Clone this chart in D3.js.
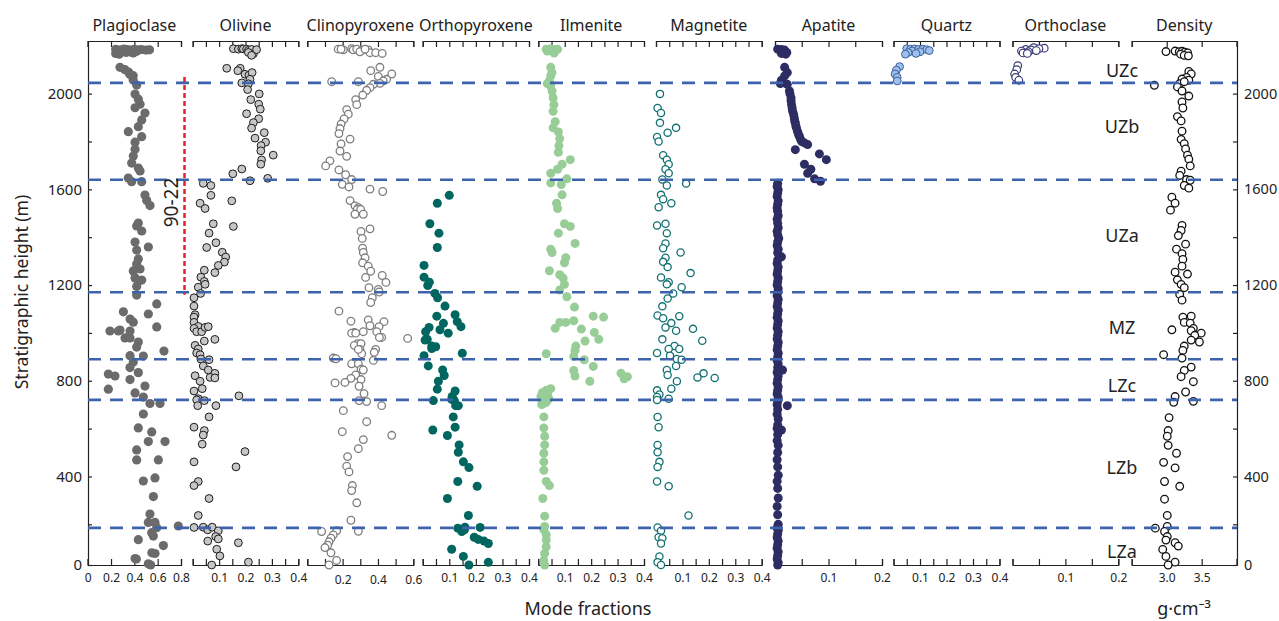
<!DOCTYPE html>
<html>
<head>
<meta charset="utf-8">
<script src="https://cdn.jsdelivr.net/npm/d3@7"></script>
<style>
  body { margin: 0; background: #fff; }
  text { font-family: "Noto Sans", sans-serif; fill: #222; }
</style>
</head>
<body>
<svg id="chart" width="1279" height="621"></svg>
<script>
// ---- data: [height (m), value] ----
const plagioclase = [
  [2185,.24],[2183,.28],[2186,.31],[2184,.34],[2182,.37],[2185,.40],[2183,.43],[2184,.46],[2182,.50],[2183,.53],
  [2178,.26],[2176,.30],[2175,.36],[2177,.42],[2172,.33],[2168,.24],[2165,.27],[2170,.39],
  [2110,.277],[2100,.32],[2090,.35],[2080,.363],[2075,.39],[2057,.39],[2036,.42],[1998,.406],
  [1977,.434],[1956,.449],[1941,.406],[1919,.491],[1890,.463],[1862,.434],[1841,.348],[1820,.463],
  [1797,.406],[1768,.406],[1739,.391],[1710,.377],[1689,.434],[1677,.449],
  [1647,.348],[1632,.377],[1632,.463],[1576,.491],[1553,.506],[1532,.534],
  [1459,.434],[1447,.42],[1426,.463],[1380,.406],[1359,.52],
  [1346,.42],[1309,.434],[1288,.42],[1267,.449],[1259,.391],[1230,.406],[1217,.434],[1221,.463],[1194,.42],
  [1158,.42],[1121,.592],[1088,.306],[1058,.363],[1045,.391],[1079,.52],[1012,.277],[1008,.363],[1008,.263],[1008,.191],[1025,.592],
  [979,.32],[979,.363],[962,.434],[941,.42],[903,.477],[905,.363],[878,.391],[855,.363],[924,.654],
  [834,.434],[828,.177],[820,.234],[805,.363],
  [765,.177],[749,.406],[778,.491],[732,.477],[705,.534],[705,.62],
  [661,.477],[603,.434],[586,.549],[546,.52],[546,.663],[511,.42],
  [469,.42],[469,.606],[381,.477],[394,.577],[316,.563],
  [243,.534],[208,.52],[208,.577],[186,.592],[165,.549],[151,.563],[193,.777],
  [136,.434],[111,.649],[81,.55],[78,.577],[57,.406],[55,.417],[35,.52],[28,.54]
];
const olivine = [
  [2188,.154],[2186,.173],[2188,.186],[2187,.192],[2186,.204],[2181,.211],[2185,.223],[2167,.230],[2184,.242],[2172,.211],[2160,.223],
  [2106,.129],[2106,.18],[2096,.171],[2081,.198],[2077,.213],[2088,.225],[2060,.217],[2045,.186],[2041,.211],[2017,.208],
  [1999,.252],[1975,.22],[1956,.25],[1935,.256],[1916,.204],[1895,.25],[1879,.23],[1856,.223],[1837,.271],[1814,.236],
  [1797,.276],[1783,.259],[1761,.258],[1743,.305],[1723,.261],[1705,.258],
  [1685,.186],[1665,.152],[1646,.284],[1636,.217],
  [1625,.04],[1616,.069],[1575,.069],[1542,.028],[1520,.047],[1552,.148],[1456,.078],[1445,.154],[1417,.062],[1357,.053],
  [1377,.088],[1337,.112],[1317,.125],[1296,.12],[1282,.097],[1252,.084],[1262,.044],[1233,.031],[1215,.044],[1191,.021],[1203,.047],[1165,.03],
  [1147,.005],[1112,.005],[1076,.009],[1066,.005],[1044,.005],[1027,.021],[1019,.005],[1005,.015],[1005,.034],[1023,.047],[1026,.059],
  [973,.084],[966,.044],[948,.009],[933,.021],[916,.015],[909,.028],[888,.062],[891,.031],[862,.040],
  [821,.009],[845,.059],[831,.084],[814,.066],[812,.084],[798,.028],[767,.036],[757,.005],[725,.021],[720,.015],[717,.044],
  [696,.019],[696,.088],[737,.175],[649,.062],[606,.005],[592,.044],[573,.040],[535,.036],[504,.198],[461,.005],[440,.164],
  [379,.021],[362,.005],[308,.062],[237,.021],[187,.005],[188,.040],[177,.057],[188,.074],[173,.097],[149,.087],[139,.097],
  [130,.057],[123,.173],[96,.091],[68,.103],[42,.211],[25,.072]
];
const clinopyroxene = [
  [2186,.175],[2183,.204],[2188,.251],[2183,.26],[2186,.28],[2181,.308],[2183,.345],[2175,.298],[2171,.355],[2171,.387],[2168,.424],[2186,.191],[2186,.327],
  [2110,.411],[2096,.359],[2082,.478],[2072,.402],[2060,.449],[2053,.43],[2043,.411],[2050,.138],[2050,.289],[2039,.374],[2025,.355],
  [2014,.336],[1994,.314],[1975,.274],[1954,.28],[1933,.223],[1914,.232],[1894,.208],[1873,.191],[1854,.185],[1833,.179],[1810,.242],
  [1790,.191],[1760,.185],[1738,.223],[1719,.128],[1698,.104],[1681,.179],[1661,.217],[1641,.251],[1621,.198],[1610,.236],[1601,.355],
  [1591,.427],[1553,.242],
  [1531,.27],[1523,.289],[1516,.283],[1516,.302],[1496,.27],[1496,.317],[1435,.355],[1424,.304],[1395,.311],[1354,.313],[1336,.317],
  [1314,.327],[1293,.313],[1279,.345],[1258,.359],[1232,.33],[1240,.424],[1211,.445],[1189,.349],[1182,.402],[1171,.407],
  [1147,.368],[1127,.359],[1091,.179],[1049,.247],[1054,.345],[1047,.434],[1030,.355],[1026,.406],[1005,.393],[1002,.266],[999,.251],
  [999,.274],[1005,.317],[981,.421],[977,.568],[981,.408],[955,.285],[948,.266],[955,.304],[931,.298],[913,.308],[931,.387],[919,.379],
  [931,.289],[895,.147],[892,.162],[885,.374],[871,.251],[871,.289],[848,.304],[845,.317],[824,.274],[810,.247],[805,.304],[793,.213],
  [791,.157],[777,.293],[746,.321],[717,.293],[713,.336],[696,.421],[675,.204],[629,.336],[587,.198],[554,.317],[572,.478],[516,.289],
  [483,.228],[443,.223],[419,.236],[362,.255],[341,.251],[290,.28],[217,.247],[171,.289],[173,.166],[156,.147],[170,.081],[142,.134],
  [127,.123],[113,.115],[103,.10],[81,.134],[49,.166],[25,.123]
];
const orthopyroxene = [
  [1575,.100],[1542,.055],[1456,.027],[1417,.061],[1357,.055],[1282,.005],[1233,.005],[1212,.025],[1198,.019],[1165,.046],[1147,.056],
  [1112,.084],[1070,.053],[1076,.122],[1040,.078],[1047,.130],[1026,.144],[1023,.024],[1005,.011],[1013,.065],[999,.096],[970,.009],
  [973,.017],[945,.034],[942,.049],[935,.034],[915,.149],[905,.005],[862,.021],[845,.075],[822,.081],[798,.059],[765,.055],[757,.122],
  [734,.111],[717,.040],[722,.109],[717,.119],[696,.124],[696,.134],[649,.115],[606,.122],[594,.038],[571,.093],[532,.137],[501,.134],
  [461,.153],[437,.174],[379,.132],[359,.205],[308,.093],[237,.172],[184,.132],[177,.157],[170,.147],[188,.159],[187,.216],[146,.194],
  [137,.209],[130,.231],[120,.247],[96,.109],[66,.153],[41,.247],[25,.174]
];
const ilmenite = [
  [2186,.030],[2188,.047],[2183,.064],[2185,.073],[2178,.034],[2175,.056],[2180,.047],[2170,.06],
  [2110,.047],[2088,.052],[2074,.047],[2053,.042],[2042,.034],[2032,.047],[2011,.052],[1983,.056],[1954,.059],[1926,.056],[1883,.064],
  [1857,.056],[1840,.076],[1812,.081],[1783,.078],[1755,.076],[1724,.121],[1705,.090],[1684,.073],[1667,.047],[1644,.108],[1627,.047],
  [1620,.087],[1577,.090],[1542,.069],[1520,.073],[1456,.099],[1445,.121],[1417,.076],[1374,.139],[1350,.047],[1336,.052],[1314,.104],
  [1293,.099],[1260,.042],[1243,.081],[1229,.094],[1203,.099],[1179,.081],[1151,.108],[1108,.137],[1070,.208],[1066,.247],[1044,.081],
  [1019,.064],[1044,.104],[1051,.134],[1016,.163],[1002,.212],[973,.229],[966,.177],[945,.142],[927,.139],[913,.030],[902,.134],
  [888,.174],[860,.208],[843,.134],[820,.139],[798,.195],[831,.313],[817,.337],[808,.325],
  [767,.047],[760,.030],[750,.015],[745,.035],[739,.021],[735,.01],[732,.021],[728,.03],[725,.04],[717,.013],[710,.030],[705,.02],[700,.013],
  [649,.021],[603,.021],[568,.024],[532,.024],[497,.021],[461,.021],[426,.021],[379,.030],[362,.042],[308,.017],[234,.024],[191,.024],
  [177,.021],[156,.030],[134,.030],[106,.030],[78,.024],[49,.021],[25,.024]
];
const magnetite = [
  [1999,.015],[1940,.006],[1919,.019],[1878,.015],[1857,.076],[1837,.044],[1819,.004],[1800,.010],[1743,.027],[1724,.041],[1705,.048],
  [1684,.036],[1667,.048],[1641,.024],[1624,.114],[1616,.041],[1577,.019],[1559,.027],[1542,.058],[1525,.010],[1449,.004],[1456,.036],
  [1417,.041],[1374,.036],[1354,.027],[1336,.093],[1314,.036],[1297,.027],[1250,.131],[1275,.044],[1232,.019],[1212,.048],[1191,.097],
  [1203,.041],[1165,.065],[1144,.044],[1111,.024],[1073,.006],[1070,.088],[1061,.027],[1041,.058],[1023,.036],[1017,.140],[1009,.076],
  [973,.024],[967,.175],[945,.070],[933,.048],[933,.088],[916,.004],[905,.053],[891,.079],[888,.097],[862,.076],[845,.041],[824,.044],
  [831,.180],[814,.157],[812,.222],[798,.079],[760,.004],[767,.058],[743,.013],[732,.004],[725,.048],[720,.004],
  [649,.006],[606,.010],[532,.006],[501,.006],[461,.013],[440,.006],[379,.004],[359,.048],[237,.123],[187,.006],[173,.019],[146,.010],
  [142,.024],[120,.019],[66,.013],[42,.006],[25,.019]
];
const apatite = [
  [2186,.005],[2184,.012],[2182,.018],[2180,.010],[2176,.016],[2172,.022],[2168,.012],[2165,.020],
  [2110,.018],[2088,.023],[2074,.018],[2056,.012],[2042,.010],[2046,.016],[2039,.023],[2011,.027],[2000,.028],[1983,.030],[1970,.03],
  [1954,.031],[1940,.032],[1926,.033],[1912,.035],[1898,.036],[1885,.037],[1877,.038],[1865,.039],[1857,.040],[1843,.042],[1829,.044],
  [1820,.046],[1808,.048],[1800,.05],[1794,.055],[1787,.061],[1766,.038],[1748,.083],[1724,.096],[1705,.055],[1684,.067],[1667,.061],
  [1644,.074],[1634,.085],
  [1625,.005],[1612,.004],[1598,.006],[1585,.005],[1570,.004],[1552,.006],[1538,.005],[1522,.004],[1508,.005],[1490,.006],[1475,.004],
  [1458,.005],[1440,.006],[1425,.004],[1410,.005],[1395,.007],[1380,.005],[1365,.004],[1350,.006],[1335,.005],[1318,.012],[1305,.005],
  [1290,.004],[1275,.006],[1260,.005],[1245,.004],[1230,.006],[1215,.005],[1200,.004],[1185,.006],[1170,.005],[1155,.004],[1140,.006],
  [1125,.005],[1110,.004],[1095,.006],[1080,.005],[1065,.004],[1050,.006],[1035,.005],[1020,.004],[1005,.006],[990,.005],[975,.004],
  [960,.006],[945,.005],[930,.004],[915,.006],[900,.005],[885,.004],[870,.006],[855,.005],[845,.014],[835,.004],[820,.006],[805,.005],
  [790,.004],[775,.006],[760,.005],[745,.004],[730,.006],[715,.005],[700,.004],[696,.023],[680,.005],[660,.004],[640,.006],[615,.005],
  [600,.004],[594,.012],[575,.005],[550,.004],[530,.006],[500,.005],[470,.004],[440,.005],[405,.006],[380,.004],[350,.005],[310,.006],
  [275,.004],[240,.005],[200,.006],[185,.004],[175,.006],[160,.005],[145,.004],[130,.006],[115,.005],[100,.004],[85,.006],[70,.005],
  [55,.004],[40,.006],[25,.005]
];
const quartz = [
  [2188,.05],[2186,.065],[2187,.08],[2185,.095],[2186,.11],[2184,.125],[2180,.135],[2178,.07],[2175,.10],[2172,.055],[2168,.085],[2165,.045],
  [2113,.023],[2098,.011],[2082,.006],[2068,.014],[2053,.014]
];
const orthoclase = [
  [2192,.04],[2190,.06],[2188,.05],[2185,.025],[2183,.035],[2180,.045],[2178,.017],[2175,.03],[2170,.02],[2168,.028],
  [2117,.010],[2100,.008],[2082,.004],[2068,.006],[2056,.012]
];
const density = [
  [2176,2.99],[2178,3.12],[2175,3.18],[2177,3.22],[2173,3.26],[2170,3.3],[2165,3.2],[2160,3.25],[2158,3.31],
  [2093,3.316],[2082,3.35],[2068,3.283],[2061,3.219],[2056,3.316],[2042,3.186],[2050,3.251],[2035,2.824],[2028,3.153],[2011,3.219],
  [1990,3.316],[1965,3.219],[1940,3.231],[1904,3.153],[1886,3.206],[1843,3.219],[1809,3.206],[1791,3.251],[1769,3.27],[1743,3.297],
  [1726,3.316],[1698,3.336],[1676,3.206],[1658,3.186],[1641,3.283],[1638,3.336],[1616,3.251],[1605,3.316],[1567,3.074],[1542,3.12],
  [1513,3.054],[1449,3.219],[1428,3.206],[1407,3.166],[1371,3.27],[1350,3.14],[1331,3.219],[1307,3.231],[1279,3.219],[1254,3.12],
  [1246,3.297],[1222,3.153],[1203,3.206],[1189,3.251],[1161,3.186],[1137,3.219],[1066,3.231],[1070,3.35],[1044,3.251],[1041,3.336],
  [1013,3.074],[1019,3.381],[1009,3.35],[999,3.493],[990,3.401],[970,3.35],[962,3.467],[945,3.251],[927,3.231],[909,2.956],[895,3.219],
  [857,3.35],[843,3.251],[817,3.206],[796,3.381],[753,3.27],[734,3.12],[714,3.381],[710,3.10],[646,3.034],[592,3.021],[568,3.008],
  [530,3.021],[497,3.14],[459,2.956],[436,3.12],[379,2.969],[359,3.186],[305,2.969],[237,3.008],[191,3.008],[184,2.837],[170,2.969],
  [149,3.008],[123,3.12],[134,2.989],[95,2.943],[109,3.166],[66,2.989],[42,3.12],[25,3.021]
];

const panelTitles = ["Plagioclase","Olivine","Clinopyroxene","Orthopyroxene","Ilmenite","Magnetite","Apatite","Quartz","Orthoclase","Density"];
const panelSeries = [plagioclase, olivine, clinopyroxene, orthopyroxene, ilmenite, magnetite, apatite, quartz, orthoclase, density];
const panelDomains = [[0,0.8],[0,0.4],[0,0.6],[0,0.4],[0,0.4],[0,0.4],[0,0.2],[0,0.4],[0,0.2],[2.5,4.0]];
const panelTickSteps = [0.2,0.05,0.1,0.05,0.05,0.05,0.05,0.05,0.05,0.5];
const panelTickLabels = [
  ["0","0.2","0.4","0.6","0.8"],["0.1","0.2","0.3","0.4"],["0.2","0.4","0.6"],["0.1","0.2","0.3","0.4"],
  ["0.1","0.2","0.3","0.4"],["0.1","0.2","0.3","0.4"],["0.1","0.2"],["0.1","0.2","0.3","0.4"],["0.1","0.2"],["3.0","3.5"]
];
const heightTicks = [0,200,400,600,800,1000,1200,1400,1600,1800,2000];
const heightLabels = [0,400,800,1200,1600,2000];
const zoneBoundaries = [185, 720, 890, 1170, 1640, 2045];
const zoneNames = ["LZa","LZb","LZc","MZ","UZa","UZb","UZc"];
const zoneLabelHeights = [84, 436, 781, 1023, 1407, 1862, 2097];
const sampleName = "90-22";
const sampleRange = [1160, 2070];
const sampleLabelHeight = 1545;

// ---- layout / styles ----
const panelX = [[87.7,181],[192.7,298.3],[307.3,413.3],[422.7,529],[538.3,644],[656,761.7],[775,882],[893.5,999.5],[1012.5,1118.3],[1131.7,1236.7]];
const panelStyle = [
  { fill: "#6b6b6b", stroke: "none", sw: 0, r: 4.6 },
  { fill: "#c6c6c6", stroke: "#1c1c1c", sw: 1, r: 3.9 },
  { fill: "#fff", stroke: "#7d7d7d", sw: 1.3, r: 3.8 },
  { fill: "#00665f", stroke: "none", sw: 0, r: 4.5 },
  { fill: "#98cd98", stroke: "none", sw: 0, r: 4.5 },
  { fill: "#fff", stroke: "#137070", sw: 1.3, r: 3.6 },
  { fill: "#2e2d63", stroke: "none", sw: 0, r: 4.5 },
  { fill: "#9dc1ea", stroke: "#3e5f9e", sw: 1, r: 3.9 },
  { fill: "#fff", stroke: "#3a3a78", sw: 1.2, r: 3.8 },
  { fill: "#fff", stroke: "#111", sw: 1.3, r: 3.8 }
];
const plotTop = 41, plotBottom = 565, leftX = 88, rightX = 1237;

const svg = d3.select("#chart");
const y = d3.scaleLinear().domain([30, 2220]).range([plotBottom, plotTop]).clamp(true);

const axisStyle = g => {
  g.selectAll("path,line").attr("stroke", "#222").attr("stroke-width", 1.2);
  g.select(".domain").attr("fill", "none");
};

// height axes
svg.append("g").attr("transform", `translate(${leftX},0)`)
  .call(d3.axisLeft(y).tickValues(heightTicks).tickSize(-4).tickSizeOuter(0).tickPadding(6)
    .tickFormat(d => heightLabels.includes(d) ? d : ""))
  .call(axisStyle)
  .call(g => g.selectAll("text").attr("font-size", 15).attr("fill", "#222"));
svg.append("g").attr("transform", `translate(${rightX},0)`)
  .call(d3.axisRight(y).tickValues(heightTicks).tickSize(-4).tickSizeOuter(0).tickPadding(7)
    .tickFormat(d => heightLabels.includes(d) ? d : ""))
  .call(axisStyle)
  .call(g => g.selectAll("text").attr("font-size", 14.5).attr("fill", "#222"));

const near = (a, b) => Math.abs(a - b) < 1e-6;

panelSeries.forEach((data, i) => {
  const dom = panelDomains[i], step = panelTickSteps[i], st = panelStyle[i];
  const x = d3.scaleLinear().domain(dom).range(panelX[i]);
  const ticks = d3.range(dom[0], dom[1] + step / 2, step);
  const labels = panelTickLabels[i].map(Number);

  svg.append("g").attr("transform", `translate(0,${plotBottom})`)
    .call(d3.axisBottom(x).tickValues(ticks).tickSize(-6).tickSizeOuter(-6).tickPadding(i === 2 ? 10 : 8)
      .tickFormat(d => {
        const k = labels.findIndex(l => near(l, d));
        return k >= 0 ? panelTickLabels[i][k] : "";
      }))
    .call(axisStyle)
    .call(g => g.selectAll("text").attr("font-size", 12).attr("fill", "#222"));

  svg.append("g").attr("transform", `translate(0,${plotTop})`)
    .call(d3.axisTop(x).tickValues(ticks).tickSize(-6).tickSizeOuter(-6).tickFormat(""))
    .call(axisStyle);

  svg.append("text")
    .attr("x", (panelX[i][0] + panelX[i][1]) / 2).attr("y", 31)
    .attr("text-anchor", "middle").attr("font-size", 16)
    .text(panelTitles[i]);

  svg.append("g").selectAll("circle").data(data).join("circle")
    .attr("cx", d => x(d[1])).attr("cy", d => y(d[0])).attr("r", st.r)
    .attr("fill", st.fill).attr("stroke", st.stroke).attr("stroke-width", st.sw);
});

// zone boundaries
svg.append("g").selectAll("line").data(zoneBoundaries).join("line")
  .attr("x1", leftX).attr("x2", rightX)
  .attr("y1", d => y(d)).attr("y2", d => y(d))
  .attr("stroke", "#3e63ad").attr("stroke-width", 2.6).attr("stroke-dasharray", "13,9");

svg.append("g").selectAll("text").data(zoneNames).join("text")
  .attr("x", 1122).attr("y", (d, i) => y(zoneLabelHeights[i]))
  .attr("dy", "0.35em").attr("text-anchor", "middle").attr("font-size", 18)
  .text(d => d);

// sample 90-22
svg.append("line")
  .attr("x1", 184.5).attr("x2", 184.5)
  .attr("y1", y(sampleRange[1])).attr("y2", y(sampleRange[0]))
  .attr("stroke", "#e3232c").attr("stroke-width", 2.5).attr("stroke-dasharray", "5,3");
svg.append("text")
  .attr("transform", `translate(171,${y(sampleLabelHeight)}) rotate(-90)`)
  .attr("text-anchor", "middle").attr("dy", "0.35em").attr("font-size", 19)
  .text(sampleName);

// axis titles
svg.append("text")
  .attr("transform", `translate(22,292) rotate(-90)`)
  .attr("text-anchor", "middle").attr("dy", "0.35em").attr("font-size", 17.5)
  .text("Stratigraphic height (m)");
svg.append("text").attr("x", 588).attr("y", 615).attr("text-anchor", "middle").attr("font-size", 18)
  .text("Mode fractions");
svg.append("text").attr("x", 1184).attr("y", 615).attr("text-anchor", "middle").attr("font-size", 18)
  .text("g·cm⁻³");
</script>
</body>
</html>
